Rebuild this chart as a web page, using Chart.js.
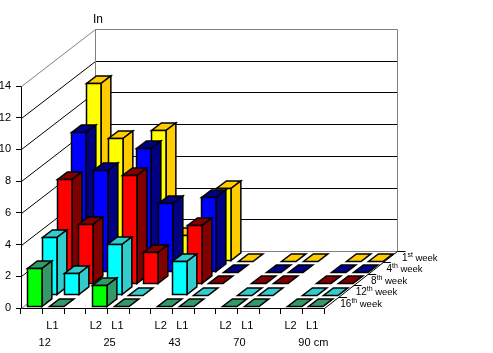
<!DOCTYPE html>
<html lang="en">
  <head>
    <meta charset="utf-8" />
    <title>3D bars by week</title>
    <style>
      * {
        margin: 0;
        padding: 0;
      }
      body {
        background: #fff;
      }
      canvas {
        display: block;
      }
    </style>
  </head>
  <body>
    <canvas id="myChart" width="493" height="353"></canvas>
    <script src="https://cdn.jsdelivr.net/npm/chart.js"></script>
    <script>
      // data, one slot per x interval, empty slots keep the groups apart
      const slots = ['', 'L1', '', 'L2', 'L1', '', 'L2', 'L1', '', 'L2', 'L1', '', 'L2', 'L1'];
      const groups = ['12', '25', '43', '70', '90 cm'];
      const groupSlots = [1, 4, 7, 10, 13];
      const yTicks = [0, 2, 4, 6, 8, 10, 12, 14];
      const week16 = [2.4, 0, null, 1.35, 0, null, 0, 0, null, 0, 0, null, 0, 0];
      const week12 = [3.65, 1.35, null, 3.2, 0, null, 2.15, 0, null, 0, 0, null, 0, 0];
      const week8 = [6.6, 3.75, null, 6.8, 1.95, null, 3.65, 0, null, 0, 0, null, 0, 0];
      const week4 = [8.8, 6.4, null, 7.8, 4.35, null, 4.7, 0, null, 0, 0, null, 0, 0];
      const week1 = [11.2, 7.75, null, 8.2, 1.6, null, 4.55, 0, null, 0, 0, null, 0, 0];

      // front to back
      const rows = [
        { num: '16', sup: 'th', data: week16, front: '#00ff00', dark: '#339966' },
        { num: '12', sup: 'th', data: week12, front: '#00ffff', dark: '#33cccc' },
        { num: '8', sup: 'th', data: week8, front: '#ff0000', dark: '#800000' },
        { num: '4', sup: 'th', data: week4, front: '#0000ff', dark: '#000080' },
        { num: '1', sup: 'st', data: week1, front: '#ffff00', dark: '#ffcc00' },
      ];

      const depthX = 74 / rows.length;
      const depthY = 57 / rows.length;
      const boxDepth = 2 / 3;
      const font = '11px "Liberation Sans", Arial, sans-serif';

      function line(ctx, x1, y1, x2, y2, color) {
        ctx.strokeStyle = color;
        ctx.beginPath();
        ctx.moveTo(x1, y1);
        ctx.lineTo(x2, y2);
        ctx.stroke();
      }

      function poly(ctx, pts, fill) {
        ctx.fillStyle = fill;
        ctx.beginPath();
        pts.forEach((p, i) => (i ? ctx.lineTo(p[0], p[1]) : ctx.moveTo(p[0], p[1])));
        ctx.closePath();
        ctx.fill();
        ctx.stroke();
      }

      // walls and floor behind the bars
      const walls = {
        id: 'walls',
        beforeDatasetsDraw(chart) {
          const { ctx, scales } = chart;
          const { x, y } = scales;
          const dx = depthX * rows.length;
          const dy = depthY * rows.length;
          const left = x.left + 0.5;
          const right = x.right + 0.5;
          const back = right + dx - 1;
          ctx.save();
          ctx.lineWidth = 1;
          yTicks.forEach((v) => {
            const py = Math.round(y.getPixelForValue(v)) + 0.5;
            const c = v === 0 || v === 14 ? '#808080' : '#000';
            line(ctx, left, py, left + dx, py - dy, c);
            line(ctx, left + dx, py - dy, back, py - dy, c);
          });
          const top = Math.round(y.top - dy) + 0.5;
          const floor = Math.round(y.bottom - dy) + 0.5;
          line(ctx, left + dx, top, left + dx, floor, '#808080');
          line(ctx, back, top, back, floor, '#808080');
          line(ctx, right, y.bottom + 0.5, back, floor, '#000');
          for (let d = 1; d <= rows.length; d++) {
            const sx = right + (depthX * d * (dx - 1)) / dx;
            const sy = Math.round(y.bottom - depthY * d) + 0.5;
            line(ctx, sx, sy, sx + 8, sy, '#000');
          }
          ctx.restore();
        },
      };

      // the bars, taken from the bar elements chart.js laid out, pushed back by row
      const boxes = {
        id: 'boxes',
        afterDatasetsDraw(chart) {
          const { ctx } = chart;
          ctx.save();
          ctx.lineWidth = 1.5;
          ctx.strokeStyle = '#000';
          for (let d = rows.length - 1; d >= 0; d--) {
            const meta = chart.getDatasetMeta(d);
            const ox = depthX * (d + (1 - boxDepth) / 2);
            const oy = depthY * (d + (1 - boxDepth) / 2);
            const bx = depthX * boxDepth;
            const by = depthY * boxDepth;
            meta.data.forEach((bar, i) => {
              if (rows[d].data[i] === null) return;
              const l = Math.round(bar.x - bar.width / 2 + ox) + 0.5;
              const r = Math.round(l + bar.width);
              const t = Math.round(bar.y - oy) + 0.5;
              const b = Math.round(bar.base - oy) + 0.5;
              poly(ctx, [[l, t], [r, t], [r + bx, t - by], [l + bx, t - by]], rows[d].dark);
              if (b > t) {
                poly(ctx, [[r, t], [r + bx, t - by], [r + bx, b - by], [r, b]], rows[d].dark);
                poly(ctx, [[l, t], [r, t], [r, b], [l, b]], rows[d].front);
              }
            });
          }
          ctx.restore();
        },
      };

      // axis title, size groups and week labels
      const labels = {
        id: 'labels',
        afterDraw(chart) {
          const { ctx, scales } = chart;
          const { x, y } = scales;
          ctx.save();
          ctx.fillStyle = '#000';
          ctx.font = '12px "Liberation Sans", Arial, sans-serif';
          ctx.textBaseline = 'middle';
          ctx.textAlign = 'left';
          ctx.fillText('In', x.left + 72, 20);
          ctx.font = font;
          groups.forEach((g, i) => {
            const px = x.left + ((x.right - x.left) * groupSlots[i]) / slots.length;
            ctx.textAlign = i === groups.length - 1 ? 'left' : 'center';
            ctx.fillText(g, i === groups.length - 1 ? px - 4 : px + 2, 343);
          });
          ctx.textAlign = 'left';
          rows.forEach((row, d) => {
            let px = x.right + depthX * (d + 1) + 1.5 + d * 0.6;
            const py = Math.round(y.bottom - depthY * (d + 1)) + 7;
            ctx.font = '10px "Liberation Sans", Arial, sans-serif';
            ctx.fillText(row.num, px, py);
            px += ctx.measureText(row.num).width;
            ctx.font = '7px "Liberation Sans", Arial, sans-serif';
            ctx.fillText(row.sup, px, py - 3);
            px += ctx.measureText(row.sup).width + 2.5;
            ctx.font = '9.5px "Liberation Sans", Arial, sans-serif';
            ctx.fillText('week', px, py);
          });
          ctx.restore();
        },
      };

      // config
      const config = {
        type: 'bar',
        data: {
          labels: slots,
          datasets: rows.map((row) => ({
            label: row.num + row.sup + ' week',
            data: row.data,
            backgroundColor: 'rgba(0,0,0,0)',
            borderWidth: 0,
            grouped: false,
            categoryPercentage: 1,
            barPercentage: boxDepth,
          })),
        },
        options: {
          responsive: false,
          animation: false,
          layout: { padding: { top: 86, right: 169, bottom: 0, left: 0 } },
          plugins: { legend: { display: false }, tooltip: { enabled: false } },
          scales: {
            x: {
              offset: true,
              afterFit: (s) => {
                s.height = 45;
              },
              grid: { offset: true, drawOnChartArea: false, color: '#000', tickLength: 6 },
              border: { color: '#000' },
              ticks: {
                color: '#000',
                font: { family: '"Liberation Sans", Arial, sans-serif', size: 11 },
                autoSkip: false,
                maxRotation: 0,
                padding: 5,
                labelOffset: -1,
              },
            },
            y: {
              min: 0,
              max: 14,
              afterFit: (s) => {
                s.width = 21;
              },
              afterBuildTicks: (s) => {
                s.ticks = yTicks.map((value) => ({ value }));
              },
              grid: { drawOnChartArea: false, color: '#000', tickLength: 5 },
              border: { color: '#000' },
              ticks: {
                color: '#000',
                font: { family: '"Liberation Sans", Arial, sans-serif', size: 11 },
                padding: 5,
              },
            },
          },
        },
        plugins: [walls, boxes, labels],
      };

      // render init block
      const myChart = new Chart(document.getElementById('myChart'), config);
    </script>
  </body>
</html>
